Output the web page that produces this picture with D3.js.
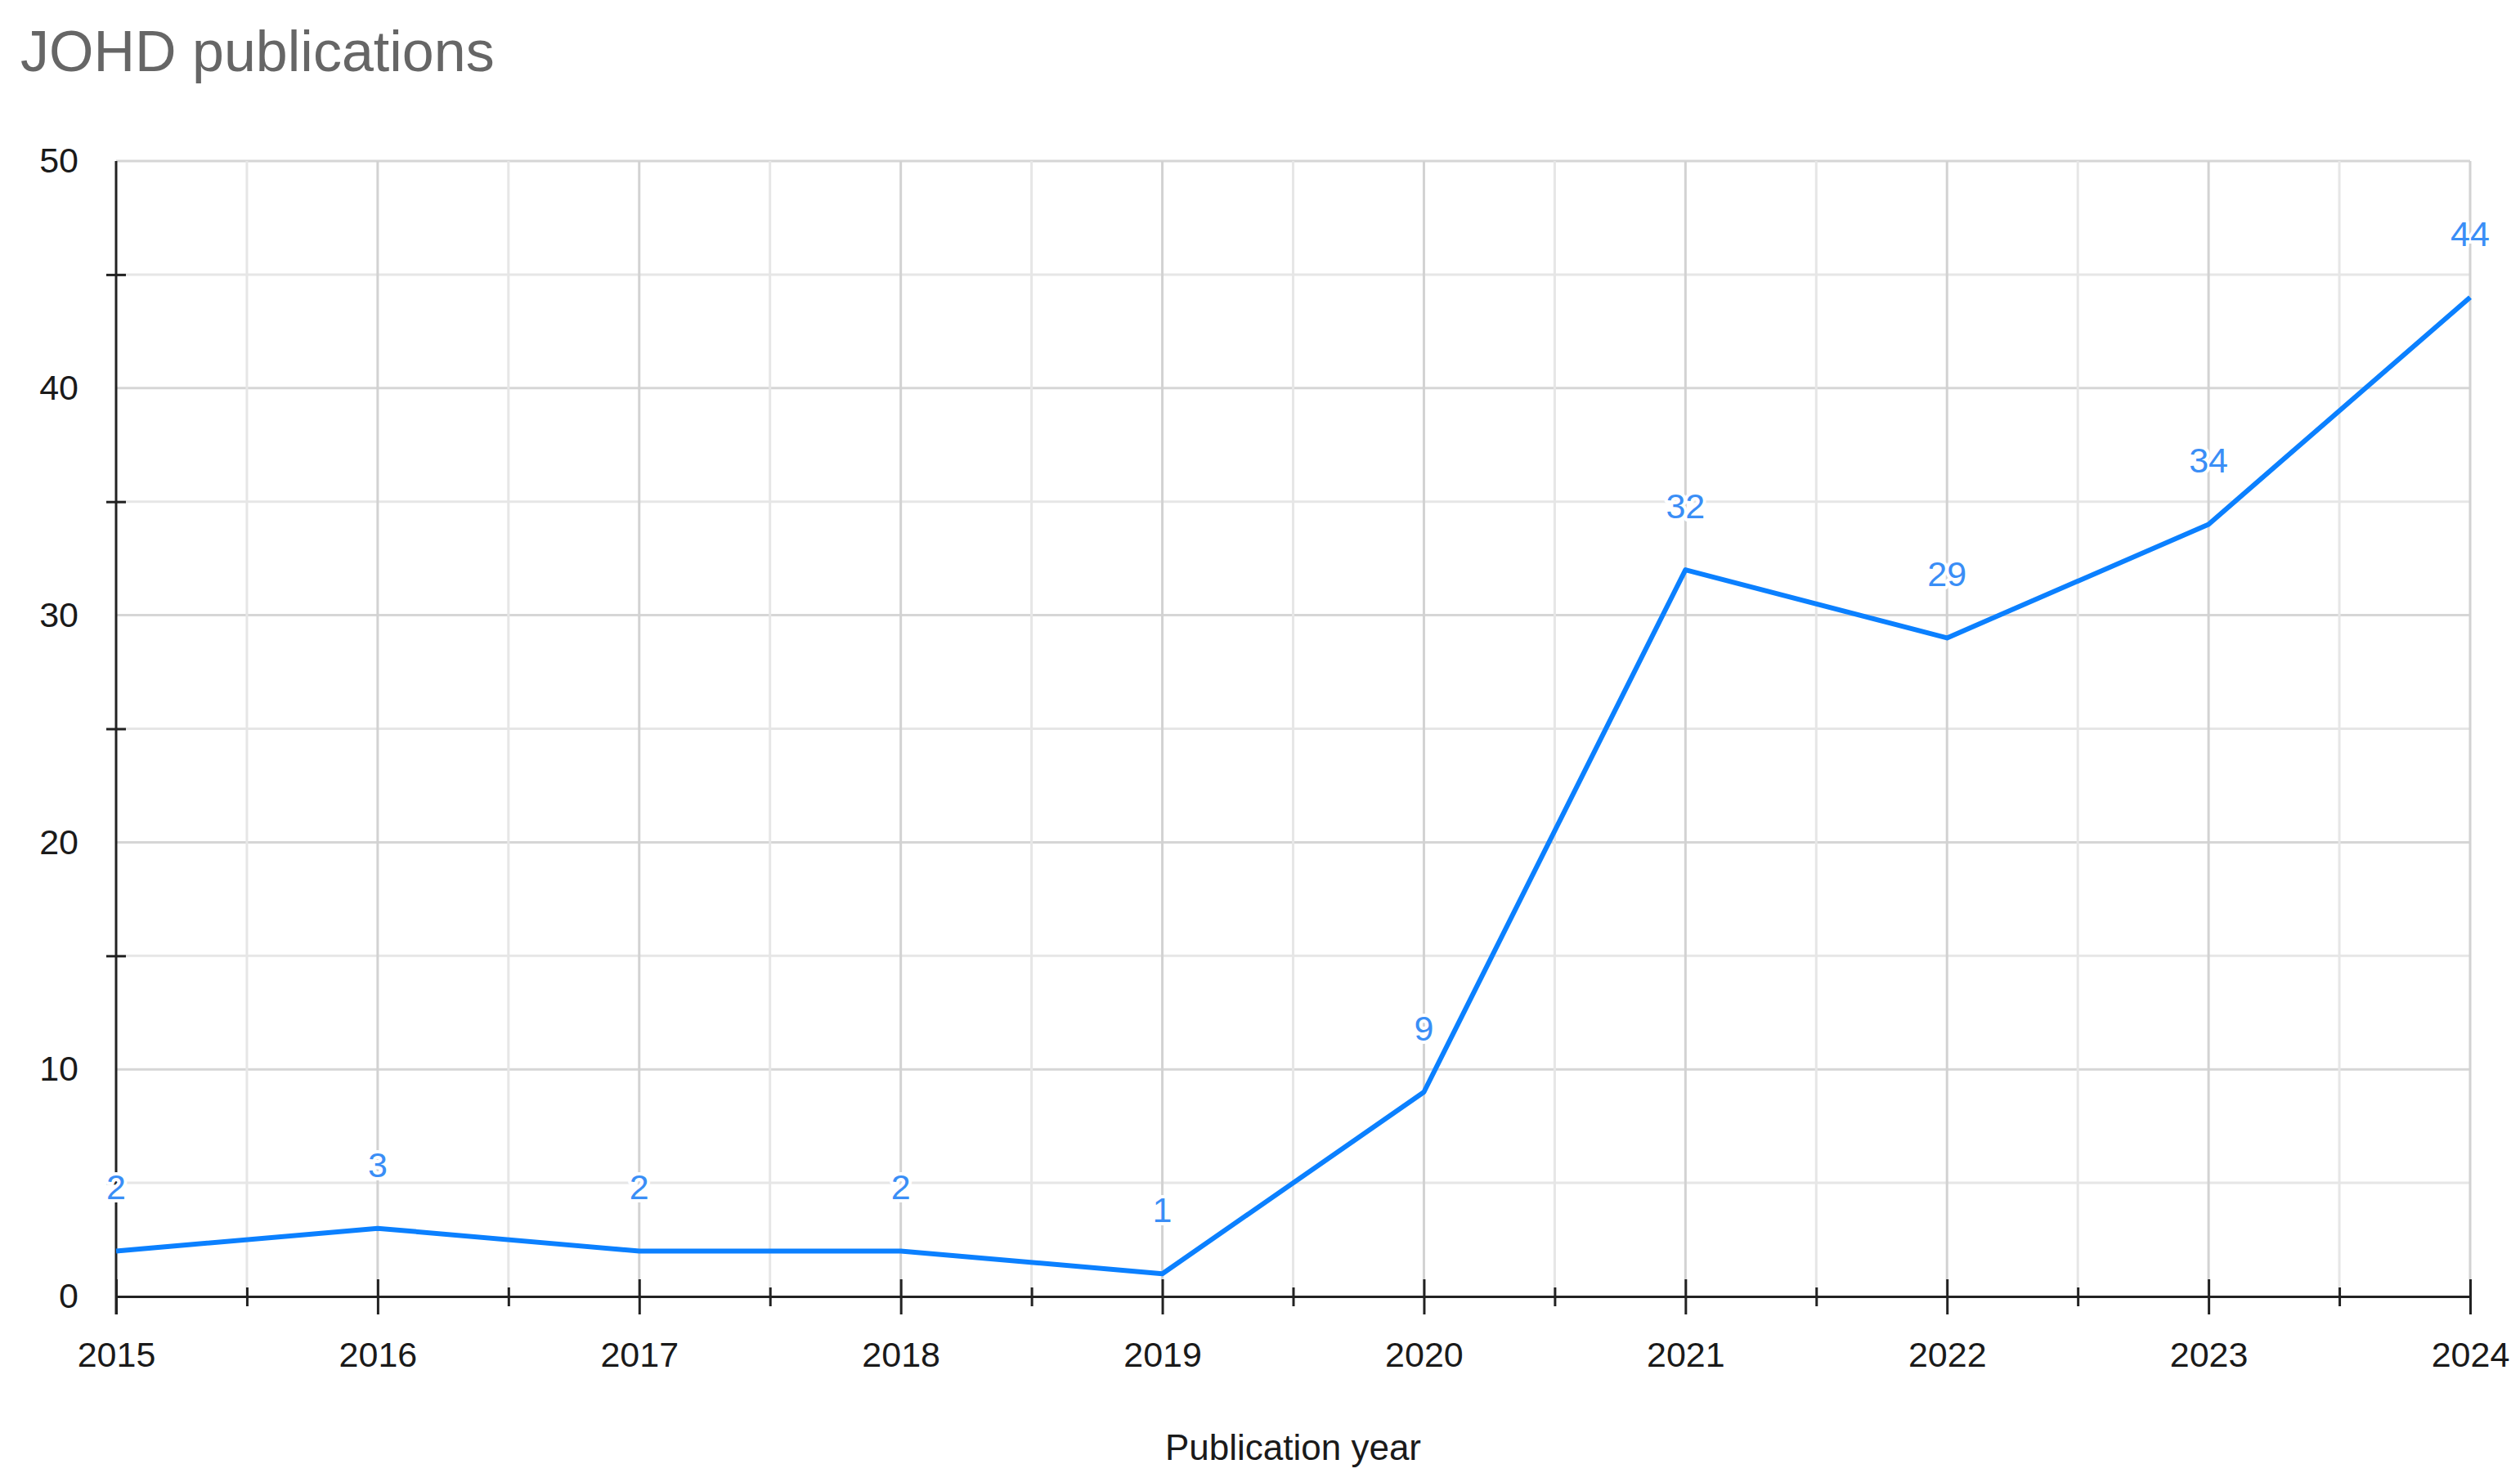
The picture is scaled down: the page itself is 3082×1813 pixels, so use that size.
<!DOCTYPE html>
<html>
<head>
<meta charset="utf-8">
<script src="https://cdn.jsdelivr.net/npm/d3@7"></script>
<style>
  html, body { margin: 0; padding: 0; background: #fff; }
  svg { display: block; }
  text { font-family: "Liberation Sans", Arial, sans-serif; }
</style>
</head>
<body>
<svg id="chart" width="3082" height="1813"></svg>
<script>
const years = [2015, 2016, 2017, 2018, 2019, 2020, 2021, 2022, 2023, 2024];
const publications = [2, 3, 2, 2, 1, 9, 32, 29, 34, 44];
const yTickValues = [0, 10, 20, 30, 40, 50];
const yMinorValues = [5, 15, 25, 35, 45];
const xMinorValues = [2015.5, 2016.5, 2017.5, 2018.5, 2019.5, 2020.5, 2021.5, 2022.5, 2023.5];
const chartTitle = "JOHD publications";
const xAxisTitle = "Publication year";

(function () {
const svg = d3.select("#chart");
const pLeft = 142, pRight = 3021, pTop = 197, pBottom = 1586;

const x = d3.scaleLinear().domain([2015, 2024]).range([pLeft, pRight]);
const y = d3.scaleLinear().domain([0, 50]).range([pBottom, pTop]);

// title
svg.append("text")
  .attr("x", 25).attr("y", 87)
  .attr("font-size", 70).attr("fill", "#666")
  .text(chartTitle);

// horizontal gridlines
const hGrid = yTickValues.concat(yMinorValues).filter(v => v > 0);
svg.append("g").selectAll("line").data(hGrid).join("line")
  .attr("x1", pLeft).attr("x2", pRight)
  .attr("y1", d => y(d)).attr("y2", d => y(d))
  .attr("stroke", d => d % 10 === 0 ? "#d6d6d6" : "#e6e6e6")
  .attr("stroke-width", 3);

// vertical gridlines
svg.append("g").selectAll("line").data(xMinorValues).join("line")
  .attr("x1", d => x(d)).attr("x2", d => x(d))
  .attr("y1", pTop).attr("y2", pBottom)
  .attr("stroke", "#e6e6e6").attr("stroke-width", 3);
svg.append("g").selectAll("line").data(years.slice(1)).join("line")
  .attr("x1", d => x(d)).attr("x2", d => x(d))
  .attr("y1", pTop).attr("y2", pBottom)
  .attr("stroke", "#d2d2d2").attr("stroke-width", 3);

// x axis (major)
const xAxis = svg.append("g").attr("transform", `translate(0,${pBottom})`)
  .call(d3.axisBottom(x).tickValues(years).tickFormat(d3.format("d")).tickSize(22).tickSizeOuter(0));
xAxis.select(".domain").attr("stroke", "#222").attr("stroke-width", 3);
xAxis.selectAll(".tick line").attr("y1", -21).attr("y2", 22).attr("stroke", "#222").attr("stroke-width", 3);
xAxis.selectAll(".tick text")
  .attr("y", 86).attr("dy", 0)
  .attr("font-size", 43).attr("fill", "#1a1a1a")
  .attr("font-family", "Liberation Sans, Arial, sans-serif");

// x axis minor ticks
const xMinor = svg.append("g").attr("transform", `translate(0,${pBottom})`)
  .call(d3.axisBottom(x).tickValues(xMinorValues).tickFormat("").tickSize(12).tickSizeOuter(0));
xMinor.select(".domain").remove();
xMinor.selectAll(".tick line").attr("y1", -11).attr("y2", 12).attr("stroke", "#222").attr("stroke-width", 3);

// y axis
const yAxis = svg.append("g").attr("transform", `translate(${pLeft},0)`)
  .call(d3.axisLeft(y).tickValues(yTickValues).tickSize(0).tickPadding(46).tickSizeOuter(0));
yAxis.select(".domain").remove();
yAxis.selectAll(".tick text")
  .attr("font-size", 43).attr("fill", "#1a1a1a")
  .attr("font-family", "Liberation Sans, Arial, sans-serif");
svg.append("line")
  .attr("x1", pLeft).attr("x2", pLeft).attr("y1", pTop).attr("y2", pBottom + 22)
  .attr("stroke", "#222").attr("stroke-width", 3);

// y minor ticks
const yMinor = svg.append("g").attr("transform", `translate(${pLeft},0)`)
  .call(d3.axisLeft(y).tickValues(yMinorValues).tickFormat("").tickSize(12).tickSizeOuter(0));
yMinor.select(".domain").remove();
yMinor.selectAll(".tick line").attr("x1", 12).attr("x2", -12).attr("stroke", "#222").attr("stroke-width", 3);

// line
const data = years.map((yr, i) => ({ year: yr, value: publications[i] }));
svg.append("path").datum(data)
  .attr("fill", "none").attr("stroke", "#0b80ff").attr("stroke-width", 6)
  .attr("stroke-linejoin", "round")
  .attr("d", d3.line().x(d => x(d.year)).y(d => y(d.value)));

// data labels (with white halo)
svg.append("g").selectAll("text").data(data).join("text")
  .attr("x", d => x(d.year)).attr("y", d => y(d.value) - 63)
  .attr("text-anchor", "middle")
  .attr("font-size", 43).attr("fill", "#3a8ef6")
  .attr("stroke", "#fff").attr("stroke-width", 8)
  .attr("stroke-linejoin", "round")
  .attr("paint-order", "stroke")
  .text(d => d.value);

// x axis title
svg.append("text")
  .attr("x", (pLeft + pRight) / 2).attr("y", 1786)
  .attr("text-anchor", "middle")
  .attr("font-size", 44).attr("fill", "#1a1a1a")
  .text(xAxisTitle);
})();
</script>
</body>
</html>
